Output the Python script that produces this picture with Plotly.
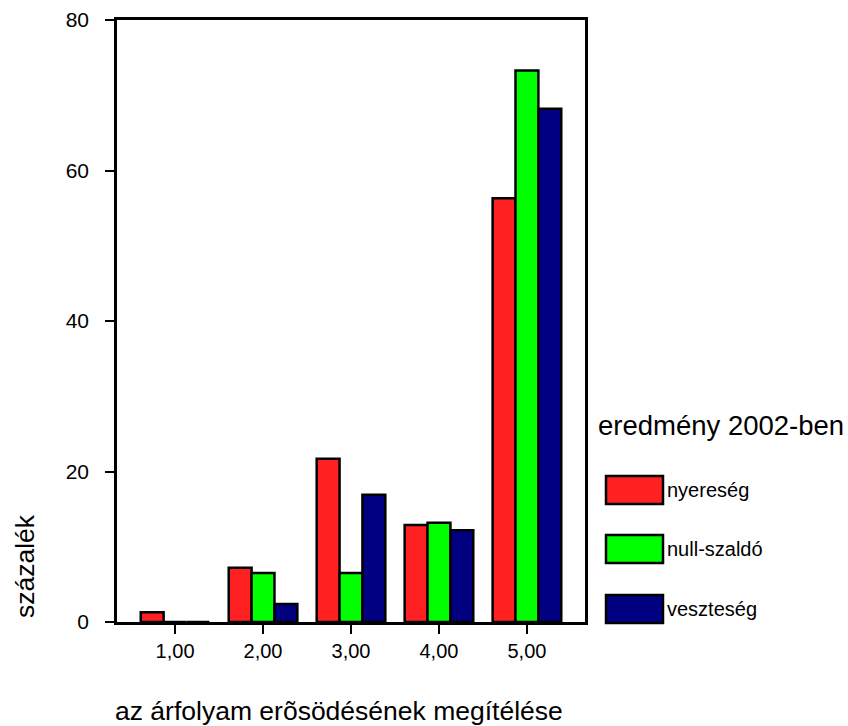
import plotly.graph_objects as go

# data
categories = [1, 2, 3, 4, 5]
tick_labels = ["1,00", "2,00", "3,00", "4,00", "5,00"]
series_names = ["nyereség", "null-szaldó", "veszteség"]
nyereseg = [1.3, 7.2, 21.7, 12.9, 56.3]
null_szaldo = [0.0, 6.5, 6.5, 13.2, 73.3]
veszteseg = [0.0, 2.4, 16.9, 12.2, 68.2]
colors = ["#ff2121", "#00ff00", "#000080"]

W, H = 848, 726
L, R, T, B = 117, 585, 20, 622   # plot area in pixels
FONT = "Liberation Sans, Arial, sans-serif"


def px(x):
    return (x - L) / (R - L)


def py(y):
    return (B - y) / (B - T)


fig = go.Figure()
for name, vals, col in zip(series_names, [nyereseg, null_szaldo, veszteseg], colors):
    fig.add_trace(go.Bar(x=categories, y=vals, name=name, marker=dict(color=col, line=dict(color="black", width=2.5)),
                         showlegend=False))

fig.update_layout(
    width=W, height=H,
    margin=dict(l=L, r=W - R, t=T, b=H - B, autoexpand=False),
    paper_bgcolor="white", plot_bgcolor="white",
    barmode="group", bargap=0.22, bargroupgap=0,
    font=dict(family=FONT, size=20, color="black"),
)
fig.update_xaxes(range=[0.34, 5.66], tickvals=categories, ticktext=tick_labels,
                 showline=True, linecolor="black", linewidth=2.5, mirror=True,
                 ticks="outside", ticklen=9, tickwidth=2, tickcolor="black",
                 showgrid=False, zeroline=False, tickfont=dict(size=20), automargin=False)
fig.update_yaxes(range=[0, 80], tickvals=[0, 20, 40, 60, 80],
                 showline=True, linecolor="black", linewidth=2.5, mirror=True,
                 ticks="outside", ticklen=9, tickwidth=2, tickcolor="black",
                 showgrid=False, zeroline=False, tickfont=dict(size=21), ticklabelstandoff=12,
                 automargin=False)

# axis titles
fig.add_annotation(text="az árfolyam erõsödésének megítélése", xref="paper", yref="paper",
                   x=px(339), y=py(711), xanchor="center", yanchor="middle", showarrow=False,
                   font=dict(size=26.5))
fig.add_annotation(text="százalék", xref="paper", yref="paper", textangle=-90,
                   x=px(25), y=py(620), xanchor="center", yanchor="bottom", showarrow=False,
                   font=dict(size=26.5))

# legend drawn by hand (large swatches)
fig.add_annotation(text="eredmény 2002-ben", xref="paper", yref="paper",
                   x=px(596), y=py(425), xanchor="left", yanchor="middle", showarrow=False,
                   font=dict(size=27.5))
swatch_tops = [476, 535, 595]
for name, col, top in zip(series_names, colors, swatch_tops):
    fig.add_shape(type="rect", xref="paper", yref="paper",
                  x0=px(606), x1=px(663), y0=py(top + 28), y1=py(top),
                  fillcolor=col, line=dict(color="black", width=2.5))
    fig.add_annotation(text=name, xref="paper", yref="paper",
                       x=px(665), y=py(top + 14), xanchor="left", yanchor="middle", showarrow=False,
                       font=dict(size=20))

# drop the default page margin so the figure fills the window exactly
fig.write_html("out.html", config={"displayModeBar": False},
               post_script="document.body.style.margin = '0px';")
